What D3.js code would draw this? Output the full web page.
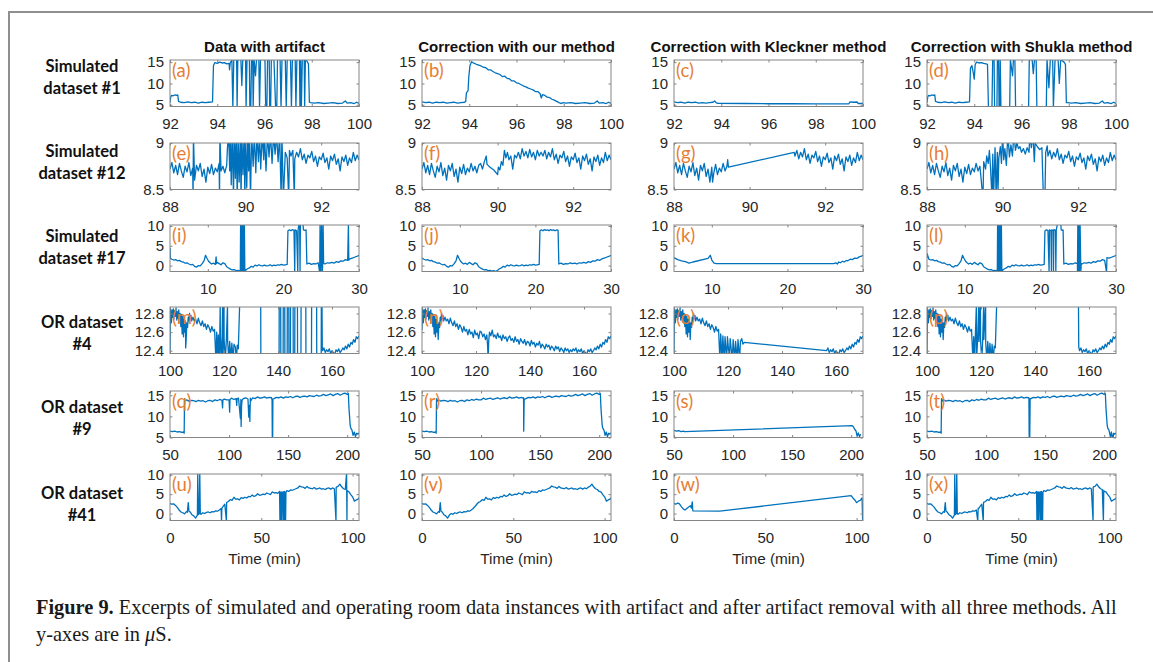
<!DOCTYPE html>
<html>
<head>
<meta charset="utf-8">
<script src="https://cdn.jsdelivr.net/npm/d3@7"></script>
<style>
  body { margin: 0; background: #fff; }
</style>
</head>
<body>
<svg id="chart" width="1153" height="662"></svg>
<script>
const columnTitles = ['Data with artifact', 'Correction with our method', 'Correction with Kleckner method', 'Correction with Shukla method'];
const rowLabels = [['Simulated', 'dataset #1'], ['Simulated', 'dataset #12'], ['Simulated', 'dataset #17'], ['OR dataset', '#4'], ['OR dataset', '#9'], ['OR dataset', '#41']];
const panelLetters = ['a', 'b', 'c', 'd', 'e', 'f', 'g', 'h', 'i', 'j', 'k', 'l', 'm', 'n', 'o', 'p', 'q', 'r', 's', 't', 'u', 'v', 'w', 'x'];
const xDomains = [[92, 100], [88, 93], [5, 30], [100, 170], [50, 210], [0, 103.5]];
const yDomains = [[4.6, 15.5], [8.5, 9], [-1.5, 10.25], [12.37, 12.87], [5, 16], [-1.8, 10.2]];
const xTicks = [[92, 94, 96, 98, 100], [88, 90, 92], [10, 20, 30], [100, 120, 140, 160], [50, 100, 150, 200], [0, 50, 100]];
const yTicks = [[5, 10, 15], [8.5, 9], [0, 5, 10], [12.4, 12.6, 12.8], [5, 10, 15], [0, 5, 10]];
const xLabel = 'Time (min)';

// simulated dataset #1  [time, value]
const sim1Bump = [[92,5.5],[92.03,6.8],[92.06,7.2],[92.12,7.1],[92.2,7.3],[92.28,7.2],[92.33,7.3],[92.36,5.8],[92.45,5.6],[92.6,5.5],[92.75,5.7],[92.9,5.5],[93.05,5.6],[93.2,5.4],[93.35,5.6],[93.5,5.5],[93.65,5.6],[93.8,5.7]];
const sim1Flat = [[92,5.7],[92.15,5.5],[92.3,5.6],[92.45,5.4],[92.6,5.6],[92.75,5.5],[92.9,5.6],[93.05,5.4],[93.2,5.5],[93.35,5.6],[93.5,5.4],[93.65,5.5],[93.8,5.6]];
const sim1Tail = [[97.95,5.5],[98.1,5.4],[98.3,5.5],[98.5,5.3],[98.7,5.4],[98.9,5.5],[99.1,5.3],[99.3,5.4],[99.42,5.9],[99.5,5.4],[99.65,5.5],[99.8,5.3],[99.9,5.6],[100,5.3]];
const sim1Artifact = [[93.84,14.2],[93.9,14.9],[94,14.7],[94.1,15],[94.2,14.8],[94.3,14.9],[94.4,14.6],[94.5,14.7],[94.52,13.2],[94.55,14.8],[94.62,15.6],[94.66,4.4],[94.7,15.6],[94.82,15.6],[94.84,4.4],[94.87,15.6],[95,15.6],[95.04,9.5],[95.08,15.6],[95.2,15.6],[95.22,4.4],[95.26,15.6],[95.36,15.6],[95.38,4.4],[95.42,4.4],[95.45,15.6],[95.5,15.6],[95.52,4.4],[95.56,15.6],[95.62,11.8],[95.66,15.6],[95.76,15.6],[95.79,4.4],[95.83,15.6],[96.02,15.6],[96.05,4.4],[96.1,4.4],[96.13,15.6],[96.2,15.6],[96.22,4.4],[96.26,4.4],[96.29,15.6],[96.4,15.6],[96.47,4.4],[96.52,4.4],[96.55,15.6],[96.66,15.6],[96.7,4.4],[96.74,15.6],[96.88,15.6],[96.92,4.4],[96.96,15.6],[97.1,15.6],[97.14,4.4],[97.18,15.6],[97.3,15.6],[97.33,4.4],[97.37,15.6],[97.48,15.6],[97.5,4.4],[97.53,15.6],[97.56,4.4],[97.6,15.6],[97.68,15.6],[97.7,4.4],[97.73,15.6],[97.8,15.2],[97.86,14.6],[97.9,5.6]];
const sim1Ours = [[93.85,5.8],[93.88,7.8],[93.95,8.3],[93.98,11.5],[94.03,14.2],[94.1,15.1],[94.15,14.9],[94.2,14.75],[94.3,14.5],[94.4,14.3],[94.5,14.1],[94.6,13.8],[94.7,13.7],[94.8,13.2],[94.9,13.2],[95,12.8],[95.1,12.5],[95.2,12.3],[95.3,12.1],[95.4,11.6],[95.5,11.7],[95.6,11.2],[95.7,11.1],[95.8,10.6],[95.9,10.6],[96,10.15],[96.1,10.0],[96.2,9.7],[96.3,9.4],[96.4,9.2],[96.5,8.9],[96.6,8.7],[96.7,8.5],[96.8,8.1],[96.9,8.1],[97,7.6],[97.05,6.6],[97.1,7.4],[97.2,7.2],[97.3,6.8],[97.4,6.7],[97.5,6.3],[97.6,6.1],[97.7,5.8],[97.8,5.5],[97.9,5.3]];
const sim1Kleckner = [[92,5.7],[92.15,5.5],[92.3,5.6],[92.45,5.4],[92.6,5.6],[92.75,5.5],[92.9,5.6],[93.05,5.4],[93.2,5.5],[93.35,5.4],[93.5,5.5],[93.65,5.6],[93.72,5.9],[93.78,5.5],[93.85,5.35],[95,5.3],[96,5.25],[97,5.25],[98,5.2],[99,5.2],[99.4,5.25],[99.45,5.7],[99.6,5.6],[99.75,5.65],[99.8,5.3],[100,5.3]];
const sim1Shukla = [[93.84,13.6],[93.9,14.2],[93.95,12.8],[94,11],[94.04,14.5],[94.1,15],[94.2,14.8],[94.3,14.9],[94.4,14.7],[94.5,14.6],[94.56,14.5],[94.6,4.4],[94.75,4.4],[94.78,15.6],[94.84,15.6],[94.86,4.4],[94.96,4.4],[94.98,15.6],[95.03,15.6],[95.05,4.4],[95.08,4.4],[95.1,15.6],[95.13,4.4],[95.5,4.4],[95.53,15.6],[95.62,11.8],[95.66,15.6],[95.72,15.6],[95.75,4.4],[96.3,4.4],[96.33,15.6],[96.45,15.6],[96.5,12.3],[96.55,15.6],[96.62,15.6],[96.65,4.4],[97.05,4.4],[97.08,15.6],[97.16,9],[97.22,15.6],[97.32,15.6],[97.35,4.4],[97.42,15.6],[97.55,15.6],[97.6,10],[97.66,15.6],[97.8,15],[97.86,14.5],[97.9,5.5]];

// simulated dataset #12
const sim12Left = [[88,8.72],[88.05,8.79],[88.1,8.68],[88.15,8.76],[88.2,8.66],[88.25,8.78],[88.3,8.7],[88.35,8.63],[88.4,8.75],[88.45,8.69],[88.5,8.79],[88.55,8.65],[88.6,8.73],[88.65,8.6],[88.7,8.76],[88.75,8.7],[88.8,8.78],[88.85,8.64],[88.9,8.72],[88.95,8.58],[89,8.74],[89.05,8.67],[89.1,8.77],[89.15,8.66],[89.2,8.73],[89.25,8.69],[89.3,8.78],[89.35,8.7],[89.4,8.75],[89.45,8.68],[89.5,8.76]];
const sim12Right = [[91.2,8.86],[91.25,8.92],[91.3,8.83],[91.35,8.9],[91.4,8.85],[91.45,8.94],[91.5,8.82],[91.55,8.88],[91.6,8.78],[91.65,8.87],[91.7,8.84],[91.75,8.91],[91.8,8.8],[91.85,8.86],[91.9,8.75],[91.95,8.85],[92,8.82],[92.05,8.89],[92.1,8.79],[92.15,8.84],[92.2,8.72],[92.25,8.86],[92.3,8.81],[92.35,8.88],[92.4,8.77],[92.45,8.83],[92.5,8.7],[92.55,8.85],[92.6,8.8],[92.65,8.87],[92.7,8.76],[92.75,8.84],[92.8,8.79],[92.85,8.9],[92.9,8.81],[92.95,8.87],[93,8.82]];
const sim12Artifact = [[88.61,8.4],[88.62,9.1],[89.31,8.4],[89.32,9.1],[89.52,8.95],[89.55,9.1],[89.58,8.7],[89.6,9.1],[89.62,8.55],[89.65,9.1],[89.68,8.4],[89.7,9.1],[89.73,8.62],[89.75,9.1],[89.78,8.4],[89.8,9.1],[89.83,8.58],[89.86,9.1],[89.88,8.4],[89.9,9.1],[89.93,8.66],[89.96,9.1],[89.98,8.4],[90,9.1],[90.03,8.52],[90.06,9.1],[90.08,8.7],[90.1,9.1],[90.13,8.4],[90.16,9.1],[90.2,8.75],[90.23,9.1],[90.27,8.68],[90.3,9.1],[90.34,8.8],[90.37,9.1],[90.4,8.72],[90.44,9.1],[90.48,8.82],[90.5,9.1],[90.54,8.7],[90.58,9.1],[90.62,8.85],[90.66,9.1],[90.7,8.78],[90.74,9.1],[90.78,8.88],[90.82,9.1],[90.86,8.8],[90.9,9.1],[90.94,8.4],[90.96,9.1],[91,8.4],[91.05,8.9],[91.1,8.84],[91.14,8.4],[91.16,8.92],[91.29,8.4]];
const sim12Ours = [[89.55,8.78],[89.6,8.72],[89.65,8.8],[89.7,8.86],[89.72,8.77],[89.8,8.74],[89.9,8.71],[90,8.66],[90.02,8.74],[90.06,8.71],[90.1,8.8],[90.14,8.76],[90.18,8.92],[90.22,8.84],[90.26,8.9],[90.3,8.82],[90.35,8.86],[90.4,8.72],[90.45,8.87],[90.5,8.84],[90.55,8.9],[90.6,8.83],[90.65,8.94],[90.7,8.86],[90.75,8.91],[90.8,8.84],[90.85,8.93],[90.9,8.85],[90.95,8.9],[91,8.82],[91.05,8.92],[91.1,8.86],[91.15,8.9]];
const sim12Kleckner = [[89.02,8.58],[89.42,8.82],[89.44,8.74],[91.18,8.9]];
const sim12Shukla = [[89.48,8.4],[89.5,8.8],[89.55,8.72],[89.58,8.86],[89.62,8.78],[89.65,8.92],[89.68,8.74],[89.72,8.4],[89.74,8.88],[89.76,8.4],[89.8,8.95],[89.83,8.4],[89.86,8.9],[89.88,8.5],[89.9,8.84],[89.94,8.96],[89.97,8.78],[90,9.1],[90.03,8.82],[90.06,8.94],[90.1,8.76],[90.14,9.1],[90.18,8.85],[90.22,8.98],[90.26,8.86],[90.3,9.1],[90.34,8.92],[90.38,9],[90.42,8.94],[90.46,8.96],[90.5,8.9],[90.55,8.94],[90.6,8.88],[90.65,8.95],[90.7,8.9],[90.72,9.1],[90.76,8.95],[90.8,9.1],[90.84,8.8],[90.86,9],[90.92,8.96],[90.98,8.93],[91.04,8.95],[91.08,8.4],[91.12,8.4],[91.14,8.9],[91.18,8.97]];

// simulated dataset #17
const sim17Head = [[5,1.9],[5.25,1.6],[5.5,1.4],[5.75,1.5],[6,1.2],[6.25,1.3],[6.5,1],[6.75,0.9],[7,0.6],[7.25,0.7],[7.5,0.4],[7.75,0.2],[8,0.3],[8.25,-0.2],[8.5,-0.4],[8.75,0],[9,-0.1],[9.25,0.5],[9.5,1.2],[9.7,2.6],[9.9,1.8],[10.1,1.1],[10.3,0.7],[10.5,0.4]];
const sim17Mid = [[10.75,0.6],[11,0.3],[11.25,0.8],[11.5,0.5],[11.75,0.2],[12,0.7],[12.25,0.5],[12.5,-0.3],[12.75,-0.6],[13,-0.9],[13.25,-1.1],[13.5,-1],[13.75,-1.3],[14,-1.2],[14.25,-1.4],[14.5,-1.3],[14.75,-1.5],[15,-1.2],[15.25,-0.8],[15.5,-0.6],[15.75,-0.2],[16,-0.4],[16.25,0.1],[16.5,-0.1],[16.75,0.2],[17,0],[17.25,-0.1],[17.5,0.1],[17.75,-0.1],[18,0],[18.25,0.2],[18.5,-0.1],[18.75,0.1],[19,0],[19.25,0.2],[19.5,0.1],[19.75,0.3],[20,0.1],[20.25,0.2],[20.5,0.3]];
const sim17Plateau = [[20.6,8.8],[20.8,9],[21,8.8],[21.2,9.1],[21.4,8.9],[21.6,9],[21.8,8.8],[22,9.1],[22.2,8.9],[22.4,9],[22.6,8.8],[22.9,9],[23,8.9]];
const sim17Tail = [[23.1,0.4],[23.4,0.6],[23.7,0.3],[24,0.5],[24.3,0.4],[24.6,0.7],[24.9,0.5],[25.2,0.6],[25.5,0.4],[25.8,0.7],[26.1,0.6],[26.4,0.8],[26.7,0.6],[27,1],[27.3,0.8],[27.6,1.2],[27.9,1.1],[28.2,1.5],[28.5,1.3],[28.8,1.7],[29.1,1.9],[29.4,2.1],[29.7,2.3],[30,2.6]];
const sim17Spikes = [[14.3,-1.7],[14.34,10.5],[14.4,-1.7],[14.46,10.5],[14.52,-1.7],[14.58,10.5],[14.64,-1.7],[14.7,10.5],[14.78,-1.7],[14.84,10.5],[14.9,-1.7],[14.95,-1]];
const sim17Artifact = [[5.02,4.3],[5.05,1.8],[11.1,2.2],[11.15,0.5],[24.8,-1.7],[24.85,10.5],[24.95,-1.7],[25.05,10.5],[25.15,-1.7],[25.25,10.5],[25.32,0.6],[28.6,10.5],[28.65,1.4]];
const sim17ArtifactPlateau = [[20.6,8.8],[20.8,9],[21,8.8],[21.2,9.1],[21.4,8.9],[21.5,-1.7],[21.55,9],[21.75,8.8],[21.9,-1.7],[21.95,9.1],[22.05,10.5],[22.15,10.5],[22.2,-1.7],[22.25,10.5],[22.6,10.5],[22.65,9],[22.85,8.9],[23,9]];
const sim17Kleckner = [[5,2],[5.5,1.5],[6,1.2],[6.5,1],[7,0.6],[7.5,0.9],[9.5,1.8],[9.8,2.6],[10,1.4],[10.3,0.6],[10.6,0.5],[26.1,0.5],[26.4,0.7],[26.6,0.4],[26.8,0.9],[27,0.7],[27.3,1.1],[27.5,0.9],[27.8,1.3],[28,1.2],[28.3,1.6],[28.6,1.5],[28.9,1.9],[29.2,1.8],[29.5,2.2],[29.8,2.4],[30,2.6]];
const sim17Shukla = [[5.02,3],[24.9,-1.7],[24.95,10.5],[25,-1.7],[25.1,10.5],[25.15,-1.7],[25.25,10.5],[25.35,-1.7],[25.4,0.5],[28.75,-1.7],[28.8,2]];
const sim17ShuklaPlateau = [[20.6,8.8],[20.8,9],[21,8.9],[21.15,-1.7],[21.2,9],[21.4,8.8],[21.46,-1.7],[21.5,9],[21.7,8.9],[21.73,-1.7],[21.78,9.1],[22,8.9],[22.04,-1.7],[22.1,9],[22.26,10.5],[22.7,10.5],[22.75,9],[22.9,8.9],[23,9]];

// OR dataset #4
const or4Head = [[100.5,12.7],[100.75,12.84],[101,12.76],[101.25,12.85],[101.5,12.74],[101.75,12.83],[102,12.77],[102.25,12.86],[102.5,12.73],[102.75,12.82],[103,12.75],[103.25,12.84],[103.5,12.7],[103.75,12.8],[104,12.66],[104.25,12.79],[104.5,12.58],[104.75,12.77],[105,12.55],[105.25,12.74],[105.5,12.6],[105.75,12.72],[106,12.52],[106.25,12.7],[106.5,12.65],[106.75,12.76],[107,12.72],[107.25,12.8],[107.5,12.74],[107.75,12.78],[108,12.72]];
const or4BodyA = [[108.5,12.76],[109,12.72],[109.5,12.74],[110,12.69],[110.5,12.75],[111,12.7],[111.5,12.67],[112,12.72],[112.5,12.66],[113,12.69],[113.5,12.63],[114,12.68],[114.5,12.65],[115,12.6],[115.5,12.66],[116,12.61],[116.5,12.63]];
const or4BodyB = [[117,12.57],[117.5,12.63],[118,12.58],[118.5,12.6],[119,12.54],[119.5,12.62],[120,12.57],[120.5,12.59],[121,12.53],[121.5,12.61],[122,12.6],[122.5,12.55],[123,12.58],[123.5,12.52],[124,12.57],[124.3,12.45],[124.5,12.3],[124.7,12.5],[125,12.6],[125.5,12.56],[126,12.62],[126.5,12.55],[127,12.57],[127.5,12.53],[128,12.59],[128.5,12.54],[129,12.56],[129.5,12.51],[130,12.57],[130.5,12.53],[131,12.55],[131.5,12.5],[132,12.54],[132.5,12.56],[133,12.51],[133.5,12.53],[134,12.49],[134.5,12.55],[135,12.5],[135.5,12.52],[136,12.47],[136.5,12.53],[137,12.5],[137.5,12.48],[138,12.52],[138.5,12.46],[139,12.5],[139.5,12.49],[140,12.45],[140.5,12.51],[141,12.47],[141.5,12.49],[142,12.44],[142.5,12.48],[143,12.46],[143.5,12.5],[144,12.43],[144.5,12.47],[145,12.45],[145.5,12.42],[146,12.47],[146.5,12.44],[147,12.46],[147.5,12.41],[148,12.45],[148.5,12.43],[149,12.4],[149.5,12.45],[150,12.42],[150.5,12.44],[151,12.39],[151.5,12.43],[152,12.41],[152.5,12.38],[153,12.43],[153.5,12.4],[154,12.42],[154.5,12.38],[155,12.41],[155.5,12.39],[156,12.42]];
const or4Tail = [[156.5,12.4],[157,12.43],[157.5,12.38],[158,12.41],[158.5,12.39],[159,12.42],[159.5,12.37],[160,12.4],[160.5,12.38],[161,12.36],[161.5,12.41],[162,12.39],[162.5,12.42],[163,12.38],[163.5,12.4],[164,12.43],[164.5,12.41],[165,12.45],[165.5,12.42],[166,12.47],[166.5,12.44],[167,12.49],[167.5,12.47],[168,12.52],[168.5,12.49],[169,12.55],[169.5,12.53],[170,12.56]];
const or4StartLow = [[100,12.33],[100.15,12.86]];
const or4StartMid = [[100,12.62],[100.2,12.85]];
const or4Artifact = [[105.8,12.43],[117,12.3],[117.3,12.6],[117.6,12.3],[117.9,12.57],[118.3,12.3],[118.6,12.9],[118.65,12.55],[119,12.3],[119.3,12.56],[119.5,12.9],[119.55,12.3],[119.9,12.55],[120,12.9],[120.05,12.52],[120.5,12.3],[120.9,12.54],[121.3,12.9],[121.35,12.5],[121.8,12.3],[122.1,12.5],[122.6,12.3],[122.9,12.48],[123.4,12.3],[123.7,12.47],[124.2,12.44],[124.6,12.3],[124.9,12.46],[125.3,12.42],[125.8,12.9],[133.6,12.9],[133.65,12.3],[140.4,12.3],[140.45,12.9],[141,12.9],[141.05,12.3],[141.9,12.3],[141.95,12.9],[142.5,12.9],[142.55,12.3],[143.4,12.3],[143.45,12.9],[144,12.9],[144.05,12.3],[144.6,12.3],[144.65,12.9],[145.6,12.9],[145.65,12.3],[146.2,12.3],[146.25,12.9],[147.2,12.9],[147.25,12.3],[148.5,12.3],[148.55,12.9],[150.3,12.9],[150.35,12.3],[152.4,12.3],[152.45,12.9],[154.3,12.9],[154.35,12.3],[156,12.3],[156.05,12.9],[156.3,12.9],[156.4,12.44]];
const or4Kleckner = [[117,12.3],[117.3,12.58],[117.8,12.3],[118.1,12.56],[118.6,12.3],[118.9,12.55],[119.5,12.3],[119.8,12.55],[120.5,12.3],[120.8,12.53],[121.6,12.3],[121.9,12.52],[122.5,12.3],[122.8,12.5],[123.4,12.3],[123.7,12.52],[124.3,12.3],[124.6,12.5],[125.1,12.53],[125.5,12.47],[126,12.49]];
const or4Shukla = [[117,12.3],[117.3,12.55],[117.6,12.3],[117.9,12.56],[118.3,12.9],[118.35,12.3],[118.8,12.55],[119.2,12.9],[119.25,12.5],[119.8,12.9],[119.85,12.5],[120.3,12.3],[120.6,12.5],[121,12.9],[121.05,12.52],[121.7,12.9],[121.75,12.48],[122.2,12.3],[122.5,12.5],[123,12.3],[123.3,12.48],[123.8,12.3],[124.1,12.47],[124.6,12.3],[124.9,12.45],[125.3,12.43],[125.8,12.9],[156.1,12.9],[156.2,12.44]];

// OR dataset #9
const or9Head = [[50,6.5],[52,6.4],[54,6.5],[56,6.3],[58,6.4],[60,6.2],[61.5,6.3],[62,6],[62.3,14.2],[63,13.6]];
const or9Body = [[64,13.9],[66,13.6],[68,13.8],[70,13.7],[72,13.5],[74,13.8],[76,13.6],[78,13.7],[80,13.4],[82,13.7],[84,13.8],[86,13.5],[88,13.9],[90,13.7],[92,14],[94,13.8],[96,14.1],[98,13.9],[100,13.9],[102,14.3],[104,14],[106,14.2],[108,14.3],[110,14],[112,14.2],[114,14.4],[116,14.1],[118,14.3],[120,14.4],[122,14.2],[124,14.6],[126,14.3],[128,14.4],[130,14.6],[132,14.3],[134,14.5],[136,14.4],[138,14.2],[140,14.5],[142,14.4],[144,14.6],[146,14.3],[148,14.6],[150,14.5],[152,14.7],[154,14.4],[156,14.7],[158,14.8],[160,14.5],[162,14.7],[164,14.8],[166,14.6],[168,14.9],[170,14.8],[172,14.7],[174,15],[176,14.8],[178,14.9],[180,15.2],[182,14.9],[184,15.1],[186,15.3],[188,14.9],[190,15.2],[192,15.4],[194,15],[196,15.3],[198,15.5],[200,15.2],[201,15.4]];
const or9Tail = [[201.5,12],[202.5,8],[203,7.2],[204,6.8],[205,5.5],[206,6.3],[207,5.2],[208,6],[209,5.8],[210,6.1]];
const or9Artifact = [[94.5,12],[94.8,13.9],[100.5,11],[100.8,14],[106.5,12.6],[106.8,14.2],[109.6,9.5],[110.2,7.6],[110.6,12.5],[111,13.8],[116.7,9.8],[117.2,12.6],[117.6,8.8],[118.2,13.6],[136.4,13.8],[136.6,4.8],[136.9,4.8],[137.1,14.1]];
const or9Ours = [[135.6,14.3],[136.1,6.5],[136.5,14]];
const or9Kleckner = [[50,6.7],[52,6.5],[54,6.6],[56,6.4],[58,6.5],[59,6.4],[201,7.8],[202,7.5],[203,6.9],[204,6.6],[205,5.3],[206,6.1],[207,5.2],[208,5.8]];
const or9Shukla = [[136.3,14.3],[136.5,4.8],[137,4.8],[137.3,14.2],[205.5,4.8],[207.5,4.8]];

// OR dataset #41
const or41Head = [[0,2.6],[1,2.4],[2,2.5],[3,2.1],[4,1.6],[5,0.9],[6,0.4],[7,0.2],[8,-0.1],[9,0.5],[9.5,0.3],[10,2.8],[10.4,0.6],[11,0.4],[12,-0.3],[13,-0.6],[14,-1.2],[15,-0.4],[16,0]];
const or41Body = [[17,-0.2],[18,0.2],[19,0],[20,0.3],[21,0.4],[22,0.2],[23,0.5],[24,0.4],[25,0.7],[26,0.6],[27,0.9],[28,1.3],[29,1.8],[30,2.4],[31,2.9],[32,3.1],[33,3.6],[34,3.4],[35,4.2],[36,3.7],[37,3.8],[38,3.5],[39,4.1],[40,3.9],[41,4.2],[42,4],[43,4.4],[44,4.3],[45,4.8],[46,4.4],[47,4.6],[48,5.1],[49,4.7],[50,4.8],[51,5],[52,4.9],[53,5.3],[54,5.1],[55,4.9],[56,5.6],[57,5.3],[58,5.4],[59,5.2],[60,5.7],[61,5.5],[62,5.6],[63,5.4],[64,5.9],[65,5.7],[66,6.1],[67,6],[68,6.2],[69,6.4],[70,6.6],[71,7.1],[72,6.9],[73,6.8],[74,6.5],[75,7],[76,6.6],[77,6.5],[78,6.4],[79,6.7],[80,6.3],[81,6.4],[82,6.6],[83,6.3],[84,6.4],[85,6.2],[86,6.5],[87,6.6],[88,6.3],[89,6.6],[90,6.4],[91,6.8],[92,7],[93,7.6],[94,6.9],[95,6.4],[96,6.2],[97,5.7],[98,5.6],[99,4.9],[100,4.3],[101,3.2],[102,3.5],[103,3.7],[103.5,4.1]];
const or41Dense = [[60.2,-2],[60.4,5.5],[60.7,-2],[60.9,5.6],[61.3,-2],[61.6,5.5],[62.2,-2],[62.5,5.7],[62.7,-2],[62.9,5.6],[63.3,-2],[63.5,5.5]];
const or41Artifact = [[15.2,10.5],[15.5,-0.3],[16.3,10.5],[16.6,-0.1],[28.2,-2],[28.4,1.3],[30.9,-2],[31.1,2.9],[90.9,-2],[91.1,6.8],[96.7,10.5],[96.9,-2],[97.1,5.9]];
const or41Kleckner = [[0,2.6],[1,2.4],[2,2.7],[3,2.5],[4,1.8],[5,1.2],[6,0.9],[7,1.3],[8,1.7],[9,2],[9.5,1.4],[10,3],[10.3,0.7],[25,0.6],[97,4.6],[98,4],[99,3.5],[100,2.8],[101,3.2],[102,3.4],[103,4],[103.3,-2]];
const or41Shukla = [[15.2,10.5],[15.5,-0.3],[16.3,10.5],[16.6,-0.1],[27.8,-2],[28.05,1.1],[30.8,-2],[30.95,2.5],[90.95,-2],[91.2,6.9],[96.6,-2],[96.8,6]];

const panelData = [
  [[...sim1Bump, ...sim1Artifact, ...sim1Tail], [...sim1Flat, ...sim1Ours, ...sim1Tail], sim1Kleckner, [...sim1Bump, ...sim1Shukla, ...sim1Tail]],
  [[...sim12Left, ...sim12Artifact, ...sim12Right], [...sim12Left, ...sim12Ours, ...sim12Right],
   [...sim12Left.filter(d => d[0] <= 89.4), ...sim12Kleckner, ...sim12Right], [...sim12Left.filter(d => d[0] < 89.45), ...sim12Shukla, ...sim12Right]],
  [[...sim17Head, ...sim17Mid, ...sim17Spikes, ...sim17ArtifactPlateau, ...sim17Tail, ...sim17Artifact],
   [...sim17Head, ...sim17Mid, ...sim17Plateau, ...sim17Tail], sim17Kleckner,
   [...sim17Head, ...sim17Mid, ...sim17Spikes, ...sim17ShuklaPlateau, ...sim17Tail, ...sim17Shukla]],
  [[...or4StartLow, ...or4Head, ...or4BodyA, ...or4Artifact, ...or4Tail], [...or4StartMid, ...or4Head, ...or4BodyA, ...or4BodyB, ...or4Tail],
   [...or4StartLow, ...or4Head, ...or4BodyA, ...or4Kleckner, ...or4Tail], [...or4StartLow, ...or4Head, ...or4BodyA, ...or4Shukla, ...or4Tail]],
  [[...or9Head, ...or9Body, ...or9Artifact, ...or9Tail], [...or9Head, ...or9Body, ...or9Ours, ...or9Tail], or9Kleckner, [...or9Head, ...or9Body, ...or9Shukla, ...or9Tail]],
  [[...or41Head, ...or41Body, ...or41Dense, ...or41Artifact], [...or41Head, ...or41Body], or41Kleckner, [...or41Head, ...or41Body, ...or41Dense, ...or41Shukla]]
];

// layout
const colX = [170, 422, 674, 927];
const rowY = [60, 143, 225, 307, 391, 474];
const pw = 189, ph = 46.5;
const rowLabelY = [77.5, 162.2, 247, 333, 418.3, 504.5];
const boxColor = '#858585';
const textColor = '#262626';
const lineColor = '#0072BD';
const letterColor = '#E67E33';
const sansFont = '"Liberation Sans", Arial, sans-serif';

const svg = d3.select('#chart');
svg.append('rect').attr('width', 1153).attr('height', 662).attr('fill', '#fff');

// figure frame
svg.append('path')
  .attr('d', 'M9,662 V12 H1153')
  .attr('fill', 'none')
  .attr('stroke', '#8f8f8f')
  .attr('stroke-width', 2);

const defs = svg.append('defs');

columnTitles.forEach((t, c) => {
  svg.append('text')
    .attr('x', colX[c] + pw / 2)
    .attr('y', 52)
    .attr('text-anchor', 'middle')
    .style('font-family', sansFont)
    .style('font-weight', 'bold')
    .style('font-size', '15px')
    .attr('fill', '#111')
    .text(t);
});

rowLabels.forEach((lines, r) => {
  lines.forEach((s, i) => {
    svg.append('text')
      .attr('x', 82)
      .attr('y', rowLabelY[r] + (i === 0 ? -10.8 : 10.8))
      .attr('dy', '0.35em')
      .attr('text-anchor', 'middle')
      .style('font-family', 'Lato, "Open Sans", sans-serif')
      .style('font-weight', 'bold')
      .style('font-size', '16.5px')
      .attr('fill', '#111')
      .text(s);
  });
});

panelData.forEach((row, r) => {
  row.forEach((data, c) => {
    const left = colX[c], top = rowY[r];
    const x = d3.scaleLinear().domain(xDomains[r]).range([left, left + pw]);
    const y = d3.scaleLinear().domain(yDomains[r]).range([top + ph, top]);
    const id = `clip-${r}-${c}`;

    defs.append('clipPath').attr('id', id)
      .append('rect').attr('x', left).attr('y', top).attr('width', pw).attr('height', ph);

    const line = d3.line().x(d => x(d[0])).y(d => y(d[1]));
    svg.append('path')
      .datum(d3.sort(data, d => d[0]))
      .attr('clip-path', `url(#${id})`)
      .attr('fill', 'none')
      .attr('stroke', lineColor)
      .attr('stroke-width', 1.3)
      .attr('stroke-linejoin', 'round')
      .attr('d', line);

    svg.append('rect')
      .attr('x', left).attr('y', top).attr('width', pw).attr('height', ph)
      .attr('fill', 'none').attr('stroke', boxColor).attr('stroke-width', 1);

    const fmt = d => String(d);
    const axes = [
      svg.append('g').attr('transform', `translate(0,${top + ph})`)
        .call(d3.axisBottom(x).tickValues(xTicks[r]).tickSize(-2.5).tickPadding(12).tickFormat(fmt)),
      svg.append('g').attr('transform', `translate(0,${top})`)
        .call(d3.axisTop(x).tickValues(xTicks[r]).tickSize(-2.5).tickFormat('')),
      svg.append('g').attr('transform', `translate(${left},0)`)
        .call(d3.axisLeft(y).tickValues(yTicks[r]).tickSize(-2.5).tickPadding(6).tickFormat(fmt)),
      svg.append('g').attr('transform', `translate(${left + pw},0)`)
        .call(d3.axisRight(y).tickValues(yTicks[r]).tickSize(-2.5).tickFormat(''))
    ];
    axes.forEach(g => {
      g.select('.domain').remove();
      g.selectAll('line').attr('stroke', boxColor);
      g.selectAll('text')
        .attr('fill', textColor)
        .style('font-family', sansFont)
        .style('font-size', '15px');
    });

    svg.append('text')
      .attr('x', left + 2)
      .attr('y', top + 16.5)
      .style('font-family', 'Lato, "Open Sans", sans-serif')
      .style('font-size', '18.5px')
      .attr('fill', letterColor)
      .text(`(${panelLetters[r * 4 + c]})`);

    if (r === panelData.length - 1) {
      svg.append('text')
        .attr('x', left + pw / 2)
        .attr('y', 563.8)
        .attr('text-anchor', 'middle')
        .style('font-family', sansFont)
        .style('font-size', '15.3px')
        .attr('fill', textColor)
        .text(xLabel);
    }
  });
});

// caption
const serif = '"Liberation Serif", "Times New Roman", serif';
const cap1 = svg.append('text').attr('x', 36).attr('y', 613.5)
  .style('font-family', serif).style('font-size', '17px').attr('fill', '#1a1a1a');
cap1.append('tspan').style('font-weight', 'bold').text('Figure 9.');
cap1.append('tspan').text(' Excerpts of simulated and operating room data instances with artifact and after artifact removal with all three methods. All');
const capSize = 17 * 1081 / cap1.node().getComputedTextLength();
cap1.style('font-size', capSize + 'px');

const cap2 = svg.append('text').attr('x', 36).attr('y', 640.5)
  .style('font-family', serif).style('font-size', capSize + 'px').attr('fill', '#1a1a1a');
cap2.append('tspan').text('y-axes are in ');
cap2.append('tspan').style('font-style', 'italic').text('μ');
cap2.append('tspan').text('S.');
</script>
</body>
</html>
